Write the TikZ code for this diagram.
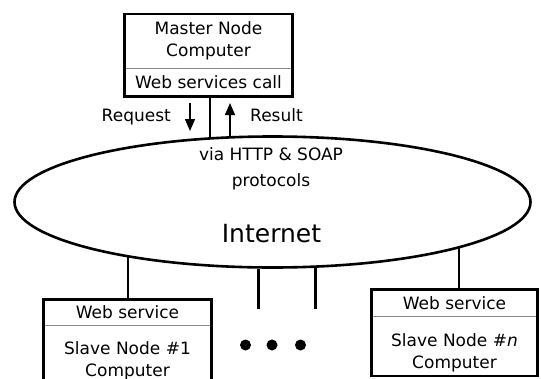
\documentclass[tikz,border=0pt]{standalone}
\usepackage{fontspec}
\setmainfont{DejaVu Sans}
\usetikzlibrary{arrows.meta,shapes.geometric}
\definecolor{ink}{HTML}{000000}
\definecolor{rulegray}{HTML}{8A8A8A}

\begin{document}
\begin{tikzpicture}[x=1pt,y=-1pt,
    boxline/.style={draw=ink,line width=2.6pt},
    link/.style={draw=ink,line width=2.6pt},
    divider/.style={draw=rulegray,line width=0.8pt},
    cell/.style={inner sep=0pt,outer sep=0pt,minimum width=168pt,align=center,font=\fontsize{17}{21.5}\selectfont,text=ink},
    lbl/.style={inner sep=0pt,font=\fontsize{17}{21}\selectfont,text=ink},
    msgarrow/.style={draw=ink,line width=1.4pt,-{Triangle[length=12pt,width=10pt]}}]
  \useasboundingbox (0,0) rectangle (541,378);
  \clip (0,0) rectangle (541,378);
  % master node
  \node[cell,minimum height=54pt] (mastername) at (208.5,41) {Master Node\\Computer};
  \node[cell,minimum height=28.5pt] (mastercall) at (208.5,82.25) {Web services call};
  \draw[divider] (mastername.south west) -- (mastername.south east);
  \draw[boxline] (mastername.north west) rectangle (mastercall.south east);
  % request / result
  \coordinate (reqtop) at (190,103);
  \coordinate (reqtip) at (190,131);
  \draw[msgarrow] (reqtop) -- (reqtip);
  \coordinate (restail) at (230,136);
  \coordinate (restip) at (230,103);
  \draw[msgarrow] (restail) -- (restip);
  \node[lbl,anchor=base east] (reqlbl) at (171,121.5) {Request};
  \node[lbl,anchor=base west] (reslbl) at (250,121.5) {Result};
  % internet
  \node[ellipse,draw=ink,line width=2.6pt,minimum width=516pt,minimum height=131pt,inner sep=0pt] (internet) at (272.5,202) {};
  \node[lbl,align=center,font=\fontsize{17}{25.5}\selectfont] (protocols) at (271,169) {via HTTP \& SOAP\\protocols};
  \node[lbl,font=\fontsize{25}{30}\selectfont] (inetlbl) at (271.5,234) {Internet};
  % slave nodes
  \node[cell,minimum height=25.5pt] (slave1head) at (127.5,312.25) {Web service};
  \node[cell] (slave1body) at (127.5,361) {Slave Node \#1\\Computer};
  \coordinate (slave1foot) at (211.5,400);
  \draw[divider] (slave1head.south west) -- (slave1head.south east);
  \draw[boxline] (slave1head.north west) rectangle (slave1foot);
  \node[cell,minimum width=166pt,minimum height=26.5pt] (slaveNhead) at (454.5,302.75) {Web service};
  \node[cell,minimum width=166pt] (slaveNbody) at (454.5,353) {Slave Node \#\textit{n}\\Computer};
  \coordinate (slaveNfoot) at (537.5,376);
  \draw[divider] (slaveNhead.south west) -- (slaveNhead.south east);
  \draw[boxline] (slaveNhead.north west) rectangle (slaveNfoot);
  % links
  \draw[link] (mastercall.south -| internet.134) -- (internet.134);
  \draw[link] (internet.201) -- (internet.201 |- slave1head.north);
  \draw[link] (internet.346) -- (internet.346 |- slaveNhead.north);
  \coordinate (stubfoot) at (0,309);
  \draw[link] (internet.258) -- (internet.258 |- stubfoot);
  \draw[link] (internet.303) -- (internet.303 |- stubfoot);
  % more slaves
  \foreach \dotx in {245.5,272,300.5}
    \fill[ink] (\dotx,345) circle[radius=5.5pt];
\end{tikzpicture}
\end{document}
